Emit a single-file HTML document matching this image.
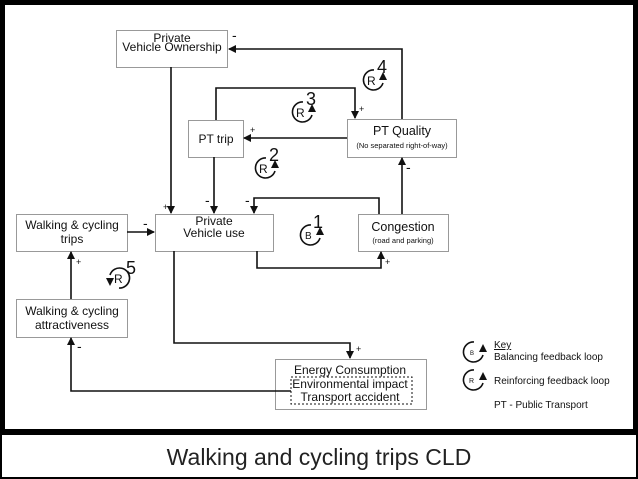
<!DOCTYPE html>
<html><head><meta charset="utf-8"><style>
html,body{margin:0;padding:0;background:#000;}
svg{display:block;}
text{font-family:"Liberation Sans",Arial,sans-serif;fill:#111;}
</style></head><body>
<svg width="638" height="479" viewBox="0 0 638 479" xmlns="http://www.w3.org/2000/svg">
<defs>
<marker id="a" markerWidth="8" markerHeight="8" refX="7" refY="4" orient="auto" markerUnits="userSpaceOnUse"><path d="M0,0 L8,4 L0,8 Z" fill="#111"/></marker>
<g id="loop"><path d="M1,-10 A10 10 0 1 0 10,3" fill="none" stroke="#111" stroke-width="1.6"/><path d="M6,0 L10,-8 L14,0 Z" fill="#111"/></g>
</defs>
<rect x="0" y="0" width="638" height="479" fill="#000"/>
<rect x="5" y="5" width="628" height="424" fill="#fff"/>
<rect x="2" y="435" width="634" height="42" fill="#fff"/>
<text x="319" y="465" font-size="23" text-anchor="middle" fill="#222" style="fill:#222">Walking and cycling trips CLD</text>

<g fill="#fff" stroke="#999" stroke-width="1">
<rect x="116.5" y="30.5" width="111" height="37"/>
<rect x="188.5" y="120.5" width="55" height="37"/>
<rect x="347.5" y="119.5" width="109" height="38"/>
<rect x="155.5" y="214.5" width="118" height="37"/>
<rect x="358.5" y="214.5" width="90" height="37"/>
<rect x="16.5" y="214.5" width="111" height="37"/>
<rect x="16.5" y="299.5" width="111" height="38"/>
<rect x="275.5" y="359.5" width="151" height="50"/>
</g>
<rect x="291" y="377" width="121" height="27" fill="none" stroke="#111" stroke-dasharray="2,2"/>

<g font-size="12" text-anchor="middle">
<text x="172" y="42">Private</text>
<text x="172" y="51">Vehicle Ownership</text>
<text x="216" y="143">PT trip</text>
<text x="402" y="135" font-size="12.5">PT Quality</text>
<text x="402" y="148" font-size="7.5">(No separated right-of-way)</text>
<text x="214" y="225">Private</text>
<text x="214" y="237">Vehicle use</text>
<text x="403" y="231" font-size="12.5">Congestion</text>
<text x="403" y="243" font-size="7.5">(road and parking)</text>
<text x="72" y="229">Walking &amp; cycling</text>
<text x="72" y="243">trips</text>
<text x="72" y="315">Walking &amp; cycling</text>
<text x="72" y="329">attractiveness</text>
<text x="350" y="374">Energy Consumption</text>
<text x="350" y="388">Environmental impact</text>
<text x="350" y="401">Transport accident</text>
</g>

<g fill="none" stroke="#111" stroke-width="1.6" marker-end="url(#a)">
<path d="M171,67 V213"/>
<path d="M402,119 V49 H229"/>
<path d="M216,120 V88 H355 V118"/>
<path d="M347,138 H244"/>
<path d="M214,157 V213"/>
<path d="M379,214 V198 H254 V213"/>
<path d="M402,214 V158"/>
<path d="M257,251 V268 H381 V252"/>
<path d="M127,232 H154"/>
<path d="M71,299 V252"/>
<path d="M174,251 V343 H350 V358"/>
<path d="M291,391 H71 V338"/>
</g>

<g font-size="11">
<text x="232" y="40" font-size="14">-</text>
<text x="163" y="210" font-size="9">+</text>
<text x="359" y="112" font-size="9">+</text>
<text x="250" y="133" font-size="9">+</text>
<text x="205" y="205" font-size="14">-</text>
<text x="245" y="205" font-size="14">-</text>
<text x="406" y="172" font-size="14">-</text>
<text x="385" y="265" font-size="9">+</text>
<text x="143" y="228" font-size="14">-</text>
<text x="76" y="265" font-size="9">+</text>
<text x="356" y="352" font-size="9">+</text>
<text x="77" y="351" font-size="14">-</text>
</g>

<g font-size="12">
<use href="#loop" x="373" y="80"/><text x="367" y="85">R</text><text x="377" y="73" font-size="18">4</text>
<use href="#loop" x="302" y="112"/><text x="296" y="117">R</text><text x="306" y="105" font-size="18">3</text>
<use href="#loop" x="265" y="168"/><text x="259" y="173">R</text><text x="269" y="161" font-size="18">2</text>
<use href="#loop" x="310" y="235"/><text x="305" y="239" font-size="10">B</text><text x="313" y="228" font-size="18">1</text>
<g transform="translate(120,278) scale(-1,-1)"><use href="#loop"/></g><text x="114" y="283">R</text><text x="126" y="274" font-size="18">5</text>
</g>

<g font-size="10">
<g transform="translate(473,352)"><use href="#loop"/></g><text x="470" y="355" font-size="6">B</text>
<g transform="translate(473,380)"><use href="#loop"/></g><text x="469" y="383" font-size="7">R</text>
<text x="494" y="348" text-decoration="underline">Key</text>
<text x="494" y="360">Balancing feedback loop</text>
<text x="494" y="384">Reinforcing feedback loop</text>
<text x="494" y="408">PT - Public Transport</text>
</g>
</svg>
</body></html>
